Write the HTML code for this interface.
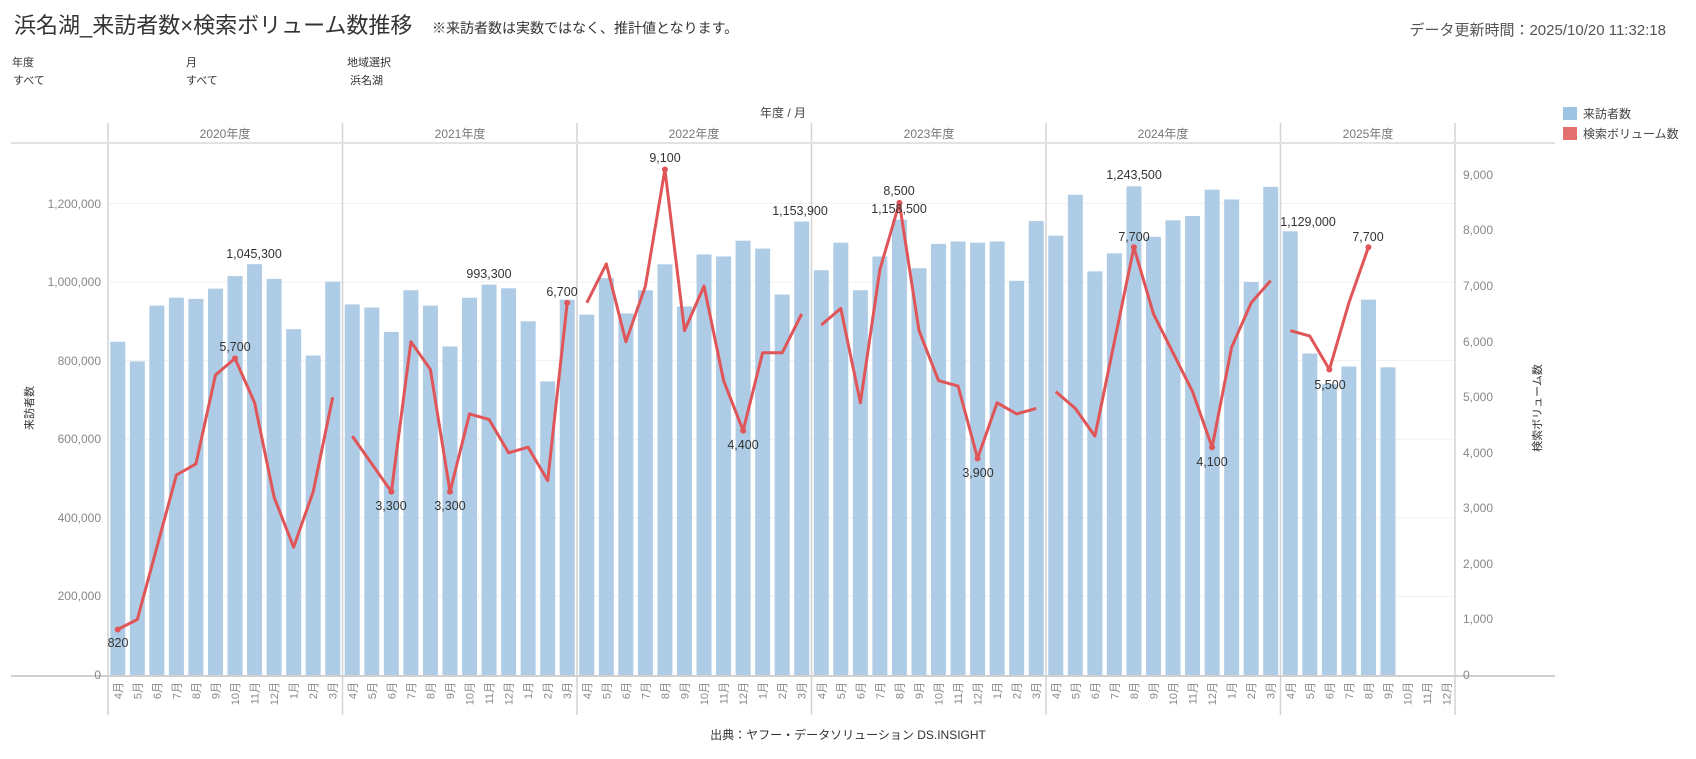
<!DOCTYPE html>
<html><head><meta charset="utf-8"><style>
body{margin:0;background:#fff;width:1696px;height:754px;overflow:hidden;font-family:"Liberation Sans","Noto Sans CJK JP",sans-serif}
svg text{font-family:"Liberation Sans","Noto Sans CJK JP",sans-serif}
</style></head><body>
<svg id="c" width="1696" height="754" xmlns="http://www.w3.org/2000/svg">
<text x="14" y="33" font-size="22" fill="#333">浜名湖_来訪者数×検索ボリューム数推移</text>
<text x="432" y="33" font-size="14" fill="#333">※来訪者数は実数ではなく、推計値となります。</text>
<text x="1666" y="35" font-size="15" fill="#555" text-anchor="end">データ更新時間：2025/10/20 11:32:18</text>
<g font-size="11" fill="#333">
<text x="12" y="66">年度</text><text x="186" y="66">月</text><text x="347" y="66">地域選択</text>
<text x="13" y="84">すべて</text><text x="186" y="84">すべて</text><text x="350" y="84">浜名湖</text>
</g>
<text x="783" y="117" font-size="12" fill="#444" text-anchor="middle">年度 / 月</text>
<rect x="1563" y="107" width="14" height="13" fill="#9fc4e1"/>
<rect x="1563" y="127" width="14" height="13" fill="#e46f70"/>
<text x="1583" y="118" font-size="12" fill="#444">来訪者数</text>
<text x="1583" y="138" font-size="12" fill="#444">検索ボリューム数</text>
<g font-size="12" fill="#777" text-anchor="middle">
<text x="225" y="138">2020年度</text><text x="460" y="138">2021年度</text><text x="694" y="138">2022年度</text>
<text x="929" y="138">2023年度</text><text x="1163" y="138">2024年度</text><text x="1368" y="138">2025年度</text>
</g>
<g stroke="#f0f0f0" stroke-width="1">
<line x1="108" x2="1455" y1="596.4" y2="596.4"/><line x1="108" x2="1455" y1="517.8" y2="517.8"/>
<line x1="108" x2="1455" y1="439.2" y2="439.2"/><line x1="108" x2="1455" y1="360.6" y2="360.6"/>
<line x1="108" x2="1455" y1="282" y2="282"/><line x1="108" x2="1455" y1="203.4" y2="203.4"/>
</g>
<g id="bars"></g>
<g id="lines"></g>
<g stroke="#d4d4d4" stroke-width="1.5">
<line x1="108" x2="108" y1="123" y2="715"/><line x1="342.5" x2="342.5" y1="123" y2="715"/>
<line x1="577" x2="577" y1="123" y2="715"/><line x1="811.5" x2="811.5" y1="123" y2="715"/>
<line x1="1046" x2="1046" y1="123" y2="715"/><line x1="1280.5" x2="1280.5" y1="123" y2="715"/>
<line x1="1455" x2="1455" y1="123" y2="715"/>
</g>
<line x1="11" x2="1555" y1="143" y2="143" stroke="#e2e2e2" stroke-width="2"/>
<line x1="11" x2="1555" y1="676" y2="676" stroke="#d0d0d0" stroke-width="2"/>
<g font-size="12" fill="#888" text-anchor="end">
<text x="101" y="679">0</text><text x="101" y="600">200,000</text><text x="101" y="522">400,000</text>
<text x="101" y="443">600,000</text><text x="101" y="365">800,000</text><text x="101" y="286">1,000,000</text>
<text x="101" y="208">1,200,000</text>
</g>
<g font-size="12" fill="#888">
<text x="1463" y="679">0</text><text x="1463" y="623">1,000</text><text x="1463" y="568">2,000</text>
<text x="1463" y="512">3,000</text><text x="1463" y="457">4,000</text><text x="1463" y="401">5,000</text>
<text x="1463" y="346">6,000</text><text x="1463" y="290">7,000</text><text x="1463" y="234">8,000</text>
<text x="1463" y="179">9,000</text>
</g>
<text transform="translate(33,408) rotate(-90)" font-size="11" fill="#333" text-anchor="middle">来訪者数</text>
<text transform="translate(1541,408) rotate(-90)" font-size="11" fill="#333" text-anchor="middle">検索ボリューム数</text>
<g font-size="12.5" fill="#333" text-anchor="middle">
<text x="118" y="647">820</text>
<text x="235" y="351">5,700</text>
<text x="254" y="258">1,045,300</text>
<text x="391" y="510">3,300</text>
<text x="450" y="510">3,300</text>
<text x="489" y="278">993,300</text>
<text x="562" y="296">6,700</text>
<text x="665" y="162">9,100</text>
<text x="743" y="449">4,400</text>
<text x="800" y="215">1,153,900</text>
<text x="899" y="195">8,500</text>
<text x="899" y="213">1,158,500</text>
<text x="978" y="477">3,900</text>
<text x="1134" y="179">1,243,500</text>
<text x="1134" y="241">7,700</text>
<text x="1212" y="466">4,100</text>
<text x="1308" y="226">1,129,000</text>
<text x="1330" y="389">5,500</text>
<text x="1368" y="241">7,700</text>
</g>
<g font-size="11" fill="#888" text-anchor="end">
<g transform="translate(108,0)">
<text transform="translate(13.8,682) rotate(-90)">4月</text><text transform="translate(33.3,682) rotate(-90)">5月</text><text transform="translate(52.9,682) rotate(-90)">6月</text><text transform="translate(72.4,682) rotate(-90)">7月</text><text transform="translate(91.9,682) rotate(-90)">8月</text><text transform="translate(111.5,682) rotate(-90)">9月</text><text transform="translate(131,682) rotate(-90)">10月</text><text transform="translate(150.6,682) rotate(-90)">11月</text><text transform="translate(170.1,682) rotate(-90)">12月</text><text transform="translate(189.6,682) rotate(-90)">1月</text><text transform="translate(209.2,682) rotate(-90)">2月</text><text transform="translate(228.7,682) rotate(-90)">3月</text>
</g>
<g transform="translate(342.5,0)">
<text transform="translate(13.8,682) rotate(-90)">4月</text><text transform="translate(33.3,682) rotate(-90)">5月</text><text transform="translate(52.9,682) rotate(-90)">6月</text><text transform="translate(72.4,682) rotate(-90)">7月</text><text transform="translate(91.9,682) rotate(-90)">8月</text><text transform="translate(111.5,682) rotate(-90)">9月</text><text transform="translate(131,682) rotate(-90)">10月</text><text transform="translate(150.6,682) rotate(-90)">11月</text><text transform="translate(170.1,682) rotate(-90)">12月</text><text transform="translate(189.6,682) rotate(-90)">1月</text><text transform="translate(209.2,682) rotate(-90)">2月</text><text transform="translate(228.7,682) rotate(-90)">3月</text>
</g>
<g transform="translate(577,0)">
<text transform="translate(13.8,682) rotate(-90)">4月</text><text transform="translate(33.3,682) rotate(-90)">5月</text><text transform="translate(52.9,682) rotate(-90)">6月</text><text transform="translate(72.4,682) rotate(-90)">7月</text><text transform="translate(91.9,682) rotate(-90)">8月</text><text transform="translate(111.5,682) rotate(-90)">9月</text><text transform="translate(131,682) rotate(-90)">10月</text><text transform="translate(150.6,682) rotate(-90)">11月</text><text transform="translate(170.1,682) rotate(-90)">12月</text><text transform="translate(189.6,682) rotate(-90)">1月</text><text transform="translate(209.2,682) rotate(-90)">2月</text><text transform="translate(228.7,682) rotate(-90)">3月</text>
</g>
<g transform="translate(811.5,0)">
<text transform="translate(13.8,682) rotate(-90)">4月</text><text transform="translate(33.3,682) rotate(-90)">5月</text><text transform="translate(52.9,682) rotate(-90)">6月</text><text transform="translate(72.4,682) rotate(-90)">7月</text><text transform="translate(91.9,682) rotate(-90)">8月</text><text transform="translate(111.5,682) rotate(-90)">9月</text><text transform="translate(131,682) rotate(-90)">10月</text><text transform="translate(150.6,682) rotate(-90)">11月</text><text transform="translate(170.1,682) rotate(-90)">12月</text><text transform="translate(189.6,682) rotate(-90)">1月</text><text transform="translate(209.2,682) rotate(-90)">2月</text><text transform="translate(228.7,682) rotate(-90)">3月</text>
</g>
<g transform="translate(1046,0)">
<text transform="translate(13.8,682) rotate(-90)">4月</text><text transform="translate(33.3,682) rotate(-90)">5月</text><text transform="translate(52.9,682) rotate(-90)">6月</text><text transform="translate(72.4,682) rotate(-90)">7月</text><text transform="translate(91.9,682) rotate(-90)">8月</text><text transform="translate(111.5,682) rotate(-90)">9月</text><text transform="translate(131,682) rotate(-90)">10月</text><text transform="translate(150.6,682) rotate(-90)">11月</text><text transform="translate(170.1,682) rotate(-90)">12月</text><text transform="translate(189.6,682) rotate(-90)">1月</text><text transform="translate(209.2,682) rotate(-90)">2月</text><text transform="translate(228.7,682) rotate(-90)">3月</text>
</g>
<g transform="translate(1280.5,0)">
<text transform="translate(13.8,682) rotate(-90)">4月</text><text transform="translate(33.3,682) rotate(-90)">5月</text><text transform="translate(52.9,682) rotate(-90)">6月</text><text transform="translate(72.4,682) rotate(-90)">7月</text><text transform="translate(91.9,682) rotate(-90)">8月</text><text transform="translate(111.5,682) rotate(-90)">9月</text><text transform="translate(131,682) rotate(-90)">10月</text><text transform="translate(150.6,682) rotate(-90)">11月</text><text transform="translate(170.1,682) rotate(-90)">12月</text>
</g>
</g>
<text x="848" y="739" font-size="12" fill="#333" text-anchor="middle">出典：ヤフー・データソリューション DS.INSIGHT</text>
</svg>
<script>
var V=[[848,798,940,960,957,983,1015,1045.3,1008,880,813,1001],
[943,935,873,979,940,836,960,993.3,984,900,747,955],
[917,1010,920,979,1045,938,1070,1065,1105,1085,968,1153.9],
[1030,1100,979,1065,1158.5,1035,1097,1103,1100,1103,1003,1155],
[1118,1222,1027,1073,1243.5,1115,1157,1168,1235,1210,1000,1242],
[1129,818,740,785,955,783]];
var S=[[820,1000,2300,3600,3800,5400,5700,4900,3200,2300,3300,5000],
[4300,3800,3300,6000,5500,3300,4700,4600,4000,4100,3500,6700],
[6700,7400,6000,7000,9100,6200,7000,5300,4400,5800,5800,6500],
[6300,6600,4900,7300,8500,6200,5300,5200,3900,4900,4700,4800],
[5100,4800,4300,6000,7700,6500,5800,5100,4100,5900,6700,7100],
[6200,6100,5500,6700,7700]];
var dots={"0,0":1,"0,6":1,"1,2":1,"1,5":1,"1,11":1,"2,4":1,"2,8":1,"3,4":1,"3,8":1,"4,4":1,"4,8":1,"5,2":1,"5,4":1};
var ns="http://www.w3.org/2000/svg",b=document.getElementById("bars"),l=document.getElementById("lines");
var off=[108,342.5,577,811.5,1046,1280.5],mw=234.5/12;
function el(t,a,p){var e=document.createElementNS(ns,t);for(var k in a)e.setAttribute(k,a[k]);p.appendChild(e);return e;}
for(var y=0;y<6;y++){var pts=[];
for(var m=0;m<V[y].length;m++){var cx=off[y]+(m+0.5)*mw,yv=675-V[y][m]*0.393;
el("rect",{x:cx-7.5,y:yv,width:15,height:675-yv,fill:"#aecce6"},b);}
for(var m=0;m<S[y].length;m++){var cx=off[y]+(m+0.5)*mw,ys=675-S[y][m]*0.05555;pts.push(cx.toFixed(1)+","+ys.toFixed(1));
if(dots[y+","+m])el("circle",{cx:cx,cy:ys,r:3,fill:"#e05558"},l);}
el("polyline",{points:pts.join(" "),fill:"none",stroke:"#e05558","stroke-width":3,"stroke-linejoin":"round"},l);}
</script>
</body></html>
